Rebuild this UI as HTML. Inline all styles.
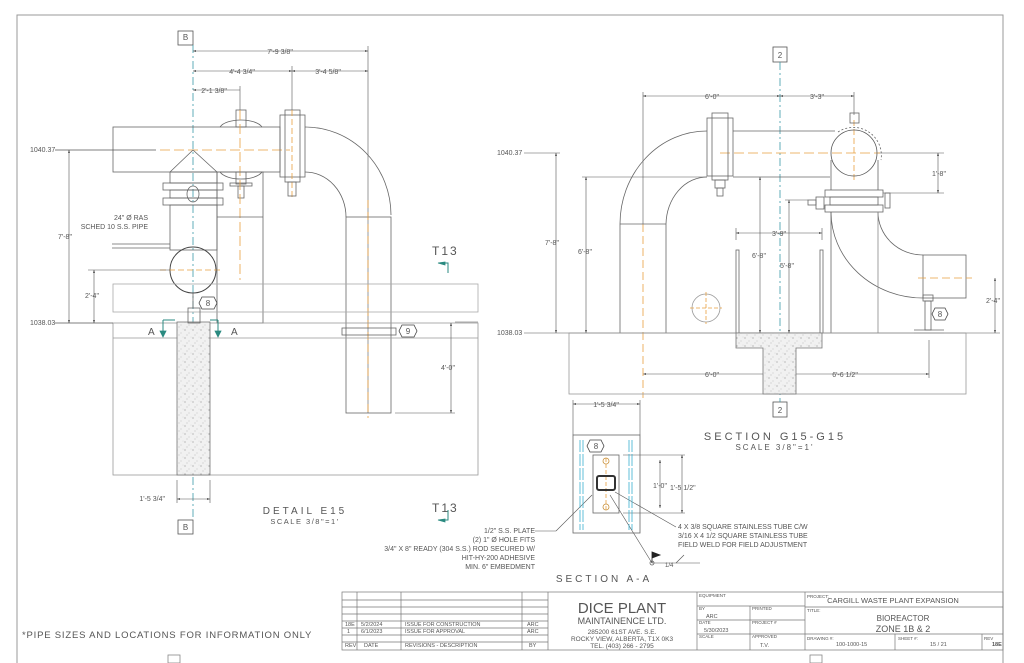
<!DOCTYPE html>
<html><head><meta charset="utf-8"><style>
html,body{margin:0;padding:0;background:#fff}
svg{display:block}
text{font-family:"Liberation Sans",sans-serif;fill:#555}
</style></head><body>
<svg width="1024" height="663" viewBox="0 0 1024 663" xmlns="http://www.w3.org/2000/svg">
<defs>
<pattern id="conc" width="8" height="8" patternUnits="userSpaceOnUse">
<rect width="8" height="8" fill="#f1f1f1"/>
<circle cx="1" cy="2" r="0.5" fill="#666"/><circle cx="5" cy="5" r="0.4" fill="#888"/><circle cx="3" cy="7" r="0.4" fill="#777"/><circle cx="7" cy="1" r="0.3" fill="#999"/>
</pattern>
<marker id="ar" markerWidth="6" markerHeight="6" refX="5" refY="3" orient="auto-start-reverse"><path d="M0,1.5 L5,3 L0,4.5z" fill="#333"/></marker>
</defs>
<g fill="none" stroke="#666" stroke-width="0.8">
<!-- border -->
<path d="M17,663 V15 H1003 V663" stroke="#999" stroke-width="1"/>

<!-- ============ LEFT DETAIL ============ -->
<rect x="178" y="31" width="15" height="14" stroke="#555"/>
<rect x="178" y="520" width="15" height="14" stroke="#555"/>
<line x1="193" y1="45" x2="193" y2="520" stroke="#3a9aa8" stroke-dasharray="8,3,2,3"/>
<!-- dims top -->
<g stroke="#555" stroke-width="0.6">
<line x1="193" y1="51" x2="368" y2="51" marker-start="url(#ar)" marker-end="url(#ar)"/>
<line x1="193" y1="71" x2="292" y2="71" marker-start="url(#ar)" marker-end="url(#ar)"/>
<line x1="292" y1="71" x2="368" y2="71" marker-start="url(#ar)" marker-end="url(#ar)"/>
<line x1="193" y1="90" x2="240" y2="90" marker-start="url(#ar)"/>
<line x1="240" y1="86" x2="240" y2="110"/>
<line x1="292" y1="66" x2="292" y2="110"/>
<line x1="368" y1="46" x2="368" y2="413"/>
</g>
<!-- horizontal pipe -->
<rect x="113" y="127" width="167" height="45"/>
<path d="M220,127 A22,10 0 0 1 262,127 M220,172 A22,10 0 0 0 262,172"/>
<rect x="236" y="110" width="10" height="17"/>
<rect x="236" y="172" width="10" height="12"/><rect x="230" y="183" width="22" height="3"/><rect x="238" y="186" width="6" height="12"/>
<line x1="160" y1="150" x2="290" y2="150" stroke="#e8a040" stroke-dasharray="10,4"/>
<line x1="240" y1="110" x2="240" y2="280" stroke="#e8a040" stroke-dasharray="10,4"/>
<line x1="55" y1="150" x2="156" y2="150" stroke="#555"/>
<!-- cone & flanges -->
<path d="M170,172 L193,150 L217,172"/>
<rect x="163" y="183" width="60" height="7"/><rect x="163" y="198" width="60" height="7"/>
<rect x="170" y="190" width="47" height="8"/>
<ellipse cx="193" cy="194" rx="6" ry="8"/>
<rect x="170" y="172" width="47" height="11"/>
<rect x="170" y="205" width="47" height="45"/>
<circle cx="193" cy="270" r="23" stroke="#444" stroke-width="1"/>
<line x1="160" y1="270" x2="222" y2="270" stroke="#e8a040" stroke-dasharray="6,3"/>
<line x1="112" y1="244" x2="170" y2="244"/><line x1="112" y1="248" x2="170" y2="248"/>
<!-- elbow flange -->
<rect x="280" y="115" width="25" height="62"/>
<rect x="285" y="110" width="15" height="72"/>
<line x1="292" y1="110" x2="292" y2="200" stroke="#e8a040" stroke-dasharray="6,3"/>
<rect x="288" y="182" width="8" height="14"/>
<path d="M305,127 A86,88 0 0 1 391,215 M305,172 A41,45 0 0 1 346,217"/>
<rect x="346" y="217" width="45" height="196"/>
<line x1="368" y1="200" x2="368" y2="418" stroke="#e8a040" stroke-dasharray="8,4"/>
<!-- support frame -->
<rect x="217" y="172" width="46" height="151"/>
<line x1="217" y1="217" x2="263" y2="217"/>
<!-- beam -->
<rect x="113" y="284" width="365" height="28" stroke="#aaa"/>
<!-- ground -->
<rect x="113" y="323" width="365" height="152" stroke="#999"/>
<line x1="113" y1="338" x2="478" y2="338" stroke="#999"/>
<line x1="55" y1="323" x2="113" y2="323" stroke="#555"/>
<rect x="177" y="322" width="33" height="153" fill="url(#conc)" stroke="#777"/>
<rect x="188" y="308" width="12" height="15"/>
<line x1="193" y1="293" x2="193" y2="308"/>
<!-- vertical dims -->
<g stroke="#555" stroke-width="0.6">
<line x1="69" y1="150" x2="69" y2="323" marker-start="url(#ar)" marker-end="url(#ar)"/>
<line x1="94" y1="270" x2="94" y2="323" marker-start="url(#ar)" marker-end="url(#ar)"/>
<line x1="88" y1="270" x2="170" y2="270"/>
<line x1="451" y1="323" x2="451" y2="413" marker-start="url(#ar)" marker-end="url(#ar)"/>
<line x1="395" y1="413" x2="455" y2="413"/>
<line x1="177" y1="499" x2="210" y2="499" marker-start="url(#ar)" marker-end="url(#ar)"/>
<line x1="177" y1="480" x2="177" y2="503"/><line x1="210" y1="480" x2="210" y2="503"/>
<line x1="455" y1="322" x2="478" y2="322"/>
</g>
<rect x="342" y="328" width="54" height="7"/>
<!-- section markers -->
<g stroke="#2a8a80" stroke-width="1">
<path d="M163,320 V334 M218,320 V334 M163,320 H175 M218,320 H210"/>
<path d="M444,263 H448 V273 M444,520 H448 V510"/>
</g>
<path d="M160,331 L163,337 L166,331z M215,331 L218,337 L221,331z M445,262 L438,263 L445,265z M445,519 L438,520 L445,522z" fill="#2a8a80" stroke="#2a8a80"/>
<!-- bubbles -->
<polygon points="202,297 214,297 217,303 214,309 202,309 199,303" stroke="#444"/>
<polygon points="402,325 414,325 417,331 414,337 402,337 399,331" stroke="#444"/>

<!-- ============ RIGHT SECTION ============ -->
<rect x="773" y="47" width="14" height="15" stroke="#555"/>
<rect x="773" y="402" width="14" height="15" stroke="#555"/>
<line x1="780" y1="62" x2="780" y2="402" stroke="#3a9aa8" stroke-dasharray="8,3,2,3"/>
<g stroke="#555" stroke-width="0.6">
<line x1="643" y1="96" x2="780" y2="96" marker-start="url(#ar)" marker-end="url(#ar)"/>
<line x1="780" y1="96" x2="854" y2="96" marker-start="url(#ar)" marker-end="url(#ar)"/>
<line x1="643" y1="92" x2="643" y2="224"/><line x1="854" y1="92" x2="854" y2="115"/>
<line x1="524" y1="153" x2="560" y2="153"/>
<line x1="524" y1="333" x2="569" y2="333"/>
<line x1="556" y1="153" x2="556" y2="333" marker-start="url(#ar)" marker-end="url(#ar)"/>
<line x1="586" y1="177" x2="586" y2="333" marker-start="url(#ar)" marker-end="url(#ar)"/>
<line x1="582" y1="177" x2="707" y2="177"/>
<line x1="760" y1="177" x2="760" y2="333" marker-start="url(#ar)" marker-end="url(#ar)"/>
<line x1="789" y1="200" x2="789" y2="333" marker-start="url(#ar)" marker-end="url(#ar)"/>
<line x1="785" y1="200" x2="808" y2="200"/>
<line x1="938" y1="153" x2="938" y2="193" marker-start="url(#ar)" marker-end="url(#ar)"/>
<line x1="878" y1="153" x2="944" y2="153"/><line x1="883" y1="193" x2="944" y2="193"/>
<line x1="995" y1="278" x2="995" y2="333" marker-start="url(#ar)" marker-end="url(#ar)"/>
<line x1="966" y1="333" x2="1000" y2="333"/>
<line x1="736" y1="233" x2="822" y2="233" marker-start="url(#ar)" marker-end="url(#ar)"/>
<line x1="736" y1="228" x2="736" y2="240"/><line x1="822" y1="228" x2="822" y2="240"/>
<line x1="643" y1="374" x2="780" y2="374" marker-start="url(#ar)" marker-end="url(#ar)"/>
<line x1="780" y1="374" x2="929" y2="374" marker-start="url(#ar)" marker-end="url(#ar)"/>
<line x1="929" y1="340" x2="929" y2="378"/>
</g>
<line x1="643" y1="224" x2="643" y2="398" stroke="#e8a040" stroke-dasharray="8,4"/>
<line x1="720" y1="153" x2="880" y2="153" stroke="#e8a040" stroke-dasharray="10,4"/>
<line x1="854" y1="120" x2="854" y2="180" stroke="#e8a040" stroke-dasharray="6,3"/>
<!-- left flange + elbow -->
<rect x="707" y="118" width="26" height="58"/>
<rect x="712" y="113" width="16" height="67"/>
<rect x="715" y="180" width="10" height="8"/><rect x="717" y="188" width="6" height="8"/>
<line x1="733" y1="131" x2="835" y2="131"/><line x1="733" y1="177" x2="830" y2="177"/>
<path d="M707,131 A87,93 0 0 0 620,224 M707,177 A41,48 0 0 0 666,224"/>
<line x1="620" y1="224" x2="620" y2="333"/><line x1="666" y1="224" x2="666" y2="333"/>
<line x1="620" y1="224" x2="666" y2="224"/>
<!-- right tee -->
<circle cx="854" cy="153" r="23" stroke="#555"/>
<path d="M838,132 A28,28 0 0 1 881,160" stroke-dasharray="2,2"/>
<rect x="850" y="113" width="9" height="10"/>
<line x1="831" y1="160" x2="831" y2="190"/><line x1="878" y1="160" x2="878" y2="190"/>
<rect x="825" y="190" width="58" height="7"/><rect x="830" y="197" width="48" height="8"/><rect x="825" y="205" width="58" height="7"/>
<rect x="885" y="193" width="5" height="15"/><rect x="816" y="197" width="8" height="12"/><rect x="808" y="200" width="8" height="5"/>
<path d="M831,212 A92,86 0 0 0 923,298 M878,212 A45,43 0 0 0 923,255"/>
<line x1="831" y1="212" x2="831" y2="333"/><line x1="878" y1="212" x2="878" y2="333" stroke="#888"/>
<rect x="923" y="255" width="43" height="43"/>
<line x1="918" y1="278" x2="972" y2="278" stroke="#e8a040" stroke-dasharray="8,4"/>
<rect x="923" y="295" width="10" height="6"/><rect x="925" y="301" width="6" height="29"/>
<line x1="914" y1="330" x2="944" y2="330"/><line x1="914" y1="333" x2="944" y2="333"/>
<polygon points="935,308 945,308 948,314 945,320 935,320 932,314" stroke="#444"/>
<!-- small circle -->
<circle cx="706" cy="308" r="14" stroke="#999"/>
<line x1="690" y1="308" x2="722" y2="308" stroke="#e8a040" stroke-dasharray="4,2"/>
<line x1="706" y1="292" x2="706" y2="324" stroke="#e8a040" stroke-dasharray="4,2"/>
<rect x="736" y="250" width="3" height="83"/><rect x="820" y="250" width="3" height="83"/>
<!-- base -->
<line x1="569" y1="333" x2="966" y2="333" stroke="#555"/>
<rect x="569" y="333" width="397" height="61" stroke="#999"/>
<path d="M736,333 H822 V348 H796 V394 H763 V348 H736z" fill="url(#conc)" stroke="#777"/>

<!-- ============ SECTION A-A ============ -->
<g stroke="#555" stroke-width="0.6">
<line x1="573" y1="404" x2="640" y2="404" marker-start="url(#ar)" marker-end="url(#ar)"/>
<line x1="573" y1="400" x2="573" y2="435"/><line x1="640" y1="400" x2="640" y2="435"/>
<line x1="623" y1="455" x2="685" y2="455"/><line x1="623" y1="513" x2="685" y2="513"/>
<line x1="660" y1="460" x2="660" y2="508" marker-start="url(#ar)" marker-end="url(#ar)"/>
<line x1="682" y1="455" x2="682" y2="513" marker-start="url(#ar)" marker-end="url(#ar)"/>
<line x1="535" y1="531" x2="556" y2="531"/><line x1="556" y1="531" x2="592" y2="495"/>
<line x1="615" y1="492" x2="676" y2="527"/><line x1="610" y1="495" x2="652" y2="563"/>
<line x1="652" y1="563" x2="700" y2="563"/><path d="M676,563 L684,555"/>
</g>
<rect x="573" y="435" width="67" height="98"/>
<path d="M580,440 V530 M583,440 V530 M632,440 V530 M629,440 V530" stroke="#3ab0d0" stroke-dasharray="12,2"/>
<rect x="593" y="455" width="26" height="58"/>
<line x1="606" y1="458" x2="606" y2="510" stroke="#e8a040" stroke-dasharray="4,2"/>
<circle cx="606" cy="461" r="3" stroke="#c8903a"/><circle cx="606" cy="507" r="3" stroke="#c8903a"/>
<rect x="597" y="476" width="18" height="14" stroke="#333" stroke-width="2" rx="2"/>
<polygon points="590,440 601,440 604,446 601,452 590,452 587,446" stroke="#444"/>
<path d="M652,563 V552 L660,555 L652,558z" fill="#222" stroke="#222"/>
<circle cx="652" cy="563" r="2"/>

<!-- ============ TITLE BLOCK ============ -->
<g stroke="#777" stroke-width="0.7">
<rect x="342" y="592" width="661" height="58"/>
<line x1="357" y1="592" x2="357" y2="650"/><line x1="401" y1="592" x2="401" y2="650"/>
<line x1="522" y1="592" x2="522" y2="650"/><line x1="548" y1="592" x2="548" y2="650"/>
<line x1="342" y1="600" x2="548" y2="600"/><line x1="342" y1="607" x2="548" y2="607"/>
<line x1="342" y1="614" x2="548" y2="614"/><line x1="342" y1="621" x2="548" y2="621"/>
<line x1="342" y1="628" x2="548" y2="628"/><line x1="342" y1="635" x2="548" y2="635"/>
<line x1="342" y1="642" x2="548" y2="642"/>
<line x1="697" y1="592" x2="697" y2="650"/><line x1="805" y1="592" x2="805" y2="650"/>
<line x1="697" y1="606" x2="805" y2="606"/><line x1="697" y1="620" x2="805" y2="620"/><line x1="697" y1="634" x2="805" y2="634"/>
<line x1="750" y1="606" x2="750" y2="650"/>
<line x1="805" y1="607" x2="1003" y2="607"/><line x1="805" y1="634" x2="1003" y2="634"/>
<line x1="895" y1="634" x2="895" y2="650"/><line x1="982" y1="634" x2="982" y2="650"/>
</g>
<rect x="168" y="655" width="12" height="8" stroke="#888"/><rect x="810" y="655" width="12" height="8" stroke="#888"/>
</g>

<!-- ============ TEXT ============ -->
<g font-size="7">
<text x="185.5" y="40" text-anchor="middle" font-size="8">B</text>
<text x="185.5" y="530" text-anchor="middle" font-size="8">B</text>
<text x="280" y="54" text-anchor="middle" fill="#444">7'-9 3/8"</text>
<text x="242" y="74" text-anchor="middle">4'-4 3/4"</text>
<text x="328" y="74" text-anchor="middle">3'-4 5/8"</text>
<text x="214" y="93" text-anchor="middle">2'-1 3/8"</text>
<text x="30" y="152">1040.37</text>
<text x="30" y="325">1038.03</text>
<text x="58" y="239">7'-8"</text>
<text x="85" y="298">2'-4"</text>
<text x="148" y="220" text-anchor="end">24" Ø RAS</text>
<text x="148" y="229" text-anchor="end">SCHED 10 S.S. PIPE</text>
<text x="441" y="370">4'-0"</text>
<text x="165" y="501" text-anchor="end">1'-5 3/4"</text>
<text x="208" y="306" text-anchor="middle" font-size="8" fill="#333">8</text>
<text x="408" y="334" text-anchor="middle" font-size="8" fill="#333">9</text>
<text x="148" y="335" font-size="10" fill="#2a8a80">A</text>
<text x="231" y="335" font-size="10" fill="#2a8a80">A</text>
<text x="432" y="255" font-size="12" fill="#2a8a80" letter-spacing="2">T13</text>
<text x="432" y="512" font-size="12" fill="#2a8a80" letter-spacing="2">T13</text>
<text x="305" y="514" text-anchor="middle" font-size="10" letter-spacing="3" fill="#333">DETAIL  E15</text>
<text x="305" y="524" text-anchor="middle" font-size="7.5" letter-spacing="1.5" fill="#333">SCALE 3/8"=1'</text>

<text x="780" y="58" text-anchor="middle" font-size="8">2</text>
<text x="780" y="413" text-anchor="middle" font-size="8">2</text>
<text x="712" y="99" text-anchor="middle">6'-0"</text>
<text x="817" y="99" text-anchor="middle">3'-3"</text>
<text x="497" y="155">1040.37</text>
<text x="497" y="335">1038.03</text>
<text x="545" y="245">7'-8"</text>
<text x="578" y="254">6'-8"</text>
<text x="752" y="258">6'-8"</text>
<text x="780" y="268">5'-8"</text>
<text x="932" y="176">1'-8"</text>
<text x="986" y="303">2'-4"</text>
<text x="779" y="236" text-anchor="middle">3'-9"</text>
<text x="712" y="377" text-anchor="middle">6'-0"</text>
<text x="845" y="377" text-anchor="middle">6'-6 1/2"</text>
<text x="940" y="317" text-anchor="middle" font-size="8" fill="#333">8</text>
<text x="775" y="440" text-anchor="middle" font-size="11" letter-spacing="3" fill="#333">SECTION G15-G15</text>
<text x="775" y="450" text-anchor="middle" font-size="8" letter-spacing="2" fill="#333">SCALE 3/8"=1'</text>

<text x="606" y="407" text-anchor="middle">1'-5 3/4"</text>
<text x="596" y="449" text-anchor="middle" font-size="8" fill="#333">8</text>
<text x="653" y="488">1'-0"</text>
<text x="670" y="490">1'-5 1/2"</text>
<text x="678" y="529">4 X 3/8 SQUARE STAINLESS TUBE C/W</text>
<text x="678" y="538">3/16 X 4 1/2 SQUARE STAINLESS TUBE</text>
<text x="678" y="547">FIELD WELD FOR FIELD ADJUSTMENT</text>
<text x="535" y="533" text-anchor="end">1/2" S.S. PLATE</text>
<text x="535" y="542" text-anchor="end">(2) 1" Ø HOLE FITS</text>
<text x="535" y="551" text-anchor="end">3/4" X 8" READY (304 S.S.) ROD SECURED W/</text>
<text x="535" y="560" text-anchor="end">HIT-HY-200 ADHESIVE</text>
<text x="535" y="569" text-anchor="end">MIN. 6" EMBEDMENT</text>
<text x="665" y="567" font-size="6">1/4</text>
<text x="604" y="582" text-anchor="middle" font-size="10" letter-spacing="3" fill="#333">SECTION A-A</text>

<text x="22" y="638" font-size="9.5" letter-spacing="0.8" fill="#444">*PIPE SIZES AND LOCATIONS FOR INFORMATION ONLY</text>

<g font-size="5.5">
<text x="345" y="626">18E</text><text x="361" y="626">5/2/2024</text><text x="405" y="626">ISSUE FOR CONSTRUCTION</text><text x="527" y="626">ARC</text>
<text x="347" y="633">1</text><text x="361" y="633">6/1/2023</text><text x="405" y="633">ISSUE FOR APPROVAL</text><text x="527" y="633">ARC</text>
<text x="345" y="647">REV</text><text x="364" y="647">DATE</text><text x="405" y="647">REVISIONS - DESCRIPTION</text><text x="529" y="647">BY</text>
<text x="699" y="597" font-size="4.5">EQUIPMENT</text>
<text x="699" y="610" font-size="4.5">BY</text><text x="752" y="610" font-size="4.5">PRINTED</text>
<text x="706" y="618">ARC</text>
<text x="699" y="624" font-size="4.5">DATE</text><text x="752" y="624" font-size="4.5">PROJECT #</text>
<text x="704" y="632">5/30/2023</text>
<text x="699" y="638" font-size="4.5">SCALE</text><text x="752" y="638" font-size="4.5">APPROVED</text>
<text x="760" y="647">T.V.</text>
<text x="807" y="598" font-size="4.5">PROJECT:</text>
<text x="807" y="612" font-size="4.5">TITLE:</text>
<text x="807" y="640" font-size="4.5">DRAWING #:</text>
<text x="836" y="646">100-1000-15</text>
<text x="898" y="640" font-size="4.5">SHEET #:</text><text x="930" y="646">15 / 21</text>
<text x="984" y="640" font-size="4.5">REV</text><text x="992" y="646" font-weight="bold" fill="#333">18E</text>
</g>
<text x="893" y="603" text-anchor="middle" font-size="7.5">CARGILL WASTE PLANT EXPANSION</text>
<text x="903" y="621" text-anchor="middle" font-size="8">BIOREACTOR</text>
<text x="903" y="632" text-anchor="middle" font-size="9">ZONE 1B &amp; 2</text>
<text x="622" y="613" text-anchor="middle" font-size="15" fill="#333">DICE PLANT</text>
<text x="622" y="624" text-anchor="middle" font-size="9" fill="#444">MAINTAINENCE LTD.</text>
<text x="622" y="634" text-anchor="middle" font-size="6.5">285200 61ST AVE. S.E.</text>
<text x="622" y="641" text-anchor="middle" font-size="6.5">ROCKY VIEW, ALBERTA, T1X 0K3</text>
<text x="622" y="648" text-anchor="middle" font-size="6.5">TEL. (403) 266 - 2795</text>
</g>
</svg>
</body></html>
